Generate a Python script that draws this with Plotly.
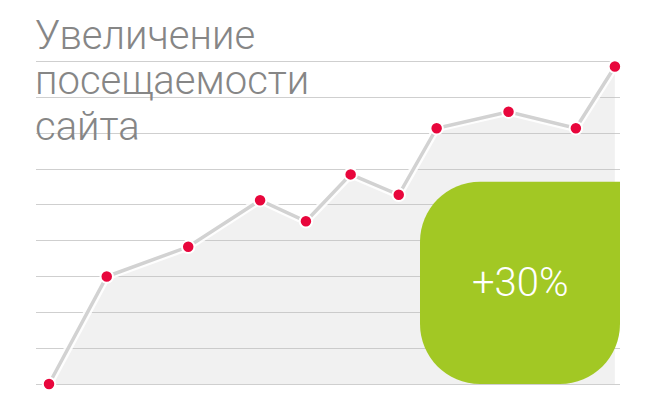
import plotly.graph_objects as go

# visits growth (gridlines = 0..9)
x_pos = [0, 10.2, 24.6, 37.3, 45.4, 53.3, 61.8, 68.5, 81.2, 93.1, 100]
visits = [0, 3.0, 3.83, 5.13, 4.54, 5.85, 5.28, 7.14, 7.6, 7.14, 8.86]
grid_vals = list(range(10))
title_lines = ["Увеличение", "посещаемости", "сайта"]
badge_text = "+30%"

W, H = 656, 411
OFF = 8  # page body margin
ML, MR, MT, MB = 36 - OFF, 656 - 620 + OFF, 20, 20
X_RANGE = [-2.3, 100.9]
UNIT = 35.83  # px per grid step
Y0 = -(H - MB - (384 - OFF)) / UNIT
Y_RANGE = [Y0, Y0 + (H - MT - MB) / UNIT]

GREY_TXT = "#868686"
RED = "#e8063c"
GREEN = "#a2c824"
FONT = "Roboto Light, Roboto"


def px_x(p):
    return X_RANGE[0] + (p - OFF - ML) * (X_RANGE[1] - X_RANGE[0]) / (W - ML - MR)


def px_y(p):
    return Y_RANGE[0] + (H - MB - (p - OFF)) / UNIT


def paper_x(p):
    return (p - OFF - ML) / (W - ML - MR)


def paper_y(p):
    return (H - MB - (p - OFF)) / (H - MT - MB)


fig = go.Figure()
fig.add_trace(go.Scatter(
    x=x_pos, y=visits, mode="lines", fill="tozeroy",
    fillcolor="rgba(190,190,190,0.22)",
    line={"color": "rgba(255,255,255,0.9)", "width": 8},
    hoverinfo="skip", showlegend=False,
))
fig.add_trace(go.Scatter(
    x=x_pos, y=visits, mode="lines+markers",
    line={"color": "#d2d2d2", "width": 3.5},
    marker={"size": 12.5, "color": RED, "line": {"color": "white", "width": 2}},
    cliponaxis=False, showlegend=False,
))

# green badge with rounded corners (square top-right)
bx0, bx1 = px_x(420), px_x(620)
by0, by1 = px_y(384), px_y(181.7)
r_px = 60
rx = px_x(420 + r_px) - bx0
ry = px_y(181.7) - px_y(181.7 + r_px)
k = 0.5523
path = (
    f"M {bx0 + rx},{by1} L {bx1},{by1} L {bx1},{by0 + ry} "
    f"C {bx1},{by0 + ry * (1 - k)} {bx1 - rx * (1 - k)},{by0} {bx1 - rx},{by0} "
    f"L {bx0 + rx},{by0} "
    f"C {bx0 + rx * (1 - k)},{by0} {bx0},{by0 + ry * (1 - k)} {bx0},{by0 + ry} "
    f"L {bx0},{by1 - ry} "
    f"C {bx0},{by1 - ry * (1 - k)} {bx0 + rx * (1 - k)},{by1} {bx0 + rx},{by1} Z"
)
fig.add_shape(type="path", path=path, xref="x", yref="y",
              fillcolor=GREEN, line={"width": 0}, layer="above")
fig.add_annotation(x=(bx0 + bx1) / 2, y=(by0 + by1) / 2, text=badge_text,
                   showarrow=False, xanchor="center", yanchor="middle",
                   font={"family": FONT, "size": 40, "color": "white", "weight": 300})

for line, base in zip(title_lines, [52, 97, 142]):
    fig.add_annotation(x=paper_x(33), y=paper_y(base + 9.5), xref="paper", yref="paper",
                       text=line, showarrow=False,
                       xanchor="left", yanchor="bottom", align="left",
                       font={"family": FONT, "size": 40, "color": GREY_TXT, "weight": 300})

fig.update_layout(
    width=W, height=H,
    margin={"l": ML, "r": MR, "t": MT, "b": MB},
    paper_bgcolor="white", plot_bgcolor="white",
    xaxis={"range": X_RANGE, "visible": False},
    yaxis={"range": Y_RANGE, "tickvals": grid_vals, "showticklabels": False,
           "gridcolor": "#cfcfcf", "gridwidth": 1, "zeroline": False},
)
fig.write_html("out.html")
